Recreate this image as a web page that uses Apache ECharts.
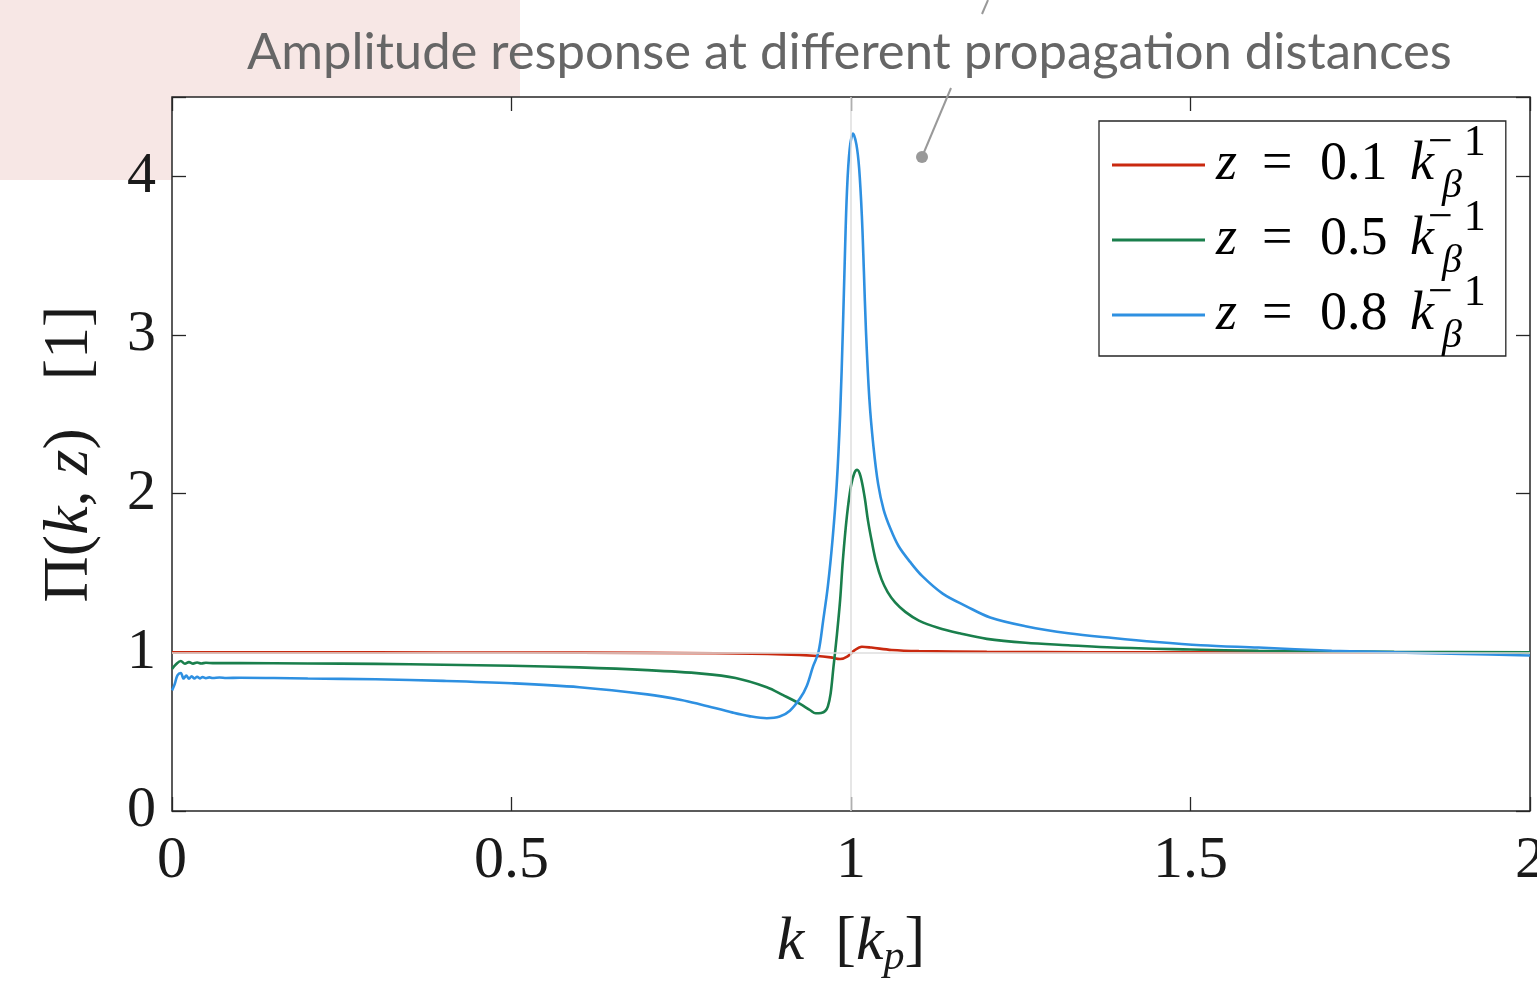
<!DOCTYPE html>
<html><head><meta charset="utf-8">
<script src="https://cdn.jsdelivr.net/npm/echarts@6/dist/echarts.min.js"></script>
<style>html,body{margin:0;padding:0;background:#fff}#c{width:1537px;height:983px}</style>
</head><body><div id="c"></div>
<script>
// ---- data ----
const titleText = 'Amplitude response at different propagation distances';
const seriesNames = ['z = 0.1', 'z = 0.5', 'z = 0.8'];
const zValues = ['0.1', '0.5', '0.8'];
const xTicks = [0, 0.5, 1, 1.5, 2];
const yTicks = [0, 1, 2, 3, 4];

const kRed = [0, 0.2, 0.4, 0.6, 0.8, 0.9, 0.95, 0.97, 0.984, 0.995, 1.005, 1.016, 1.03, 1.06, 1.1, 1.2, 1.5, 2.0];
const piRed = [1.0, 1.0, 0.999, 0.998, 0.994, 0.987, 0.977, 0.968, 0.958, 0.975, 1.012, 1.035, 1.03, 1.015, 1.008, 1.003, 1.0, 1.0];

const kGreen = [0, 0.006, 0.013, 0.019, 0.025, 0.031, 0.037, 0.043, 0.05, 0.06,
  0.1, 0.2, 0.3, 0.4, 0.5, 0.6, 0.7, 0.78, 0.83, 0.876,
  0.9, 0.925, 0.94, 0.948, 0.956, 0.962, 0.966, 0.97, 0.974, 0.979,
  0.984, 0.988, 0.994, 1.0, 1.005, 1.009, 1.014, 1.02, 1.025, 1.031,
  1.037, 1.045, 1.054, 1.065, 1.08, 1.1, 1.128, 1.16, 1.2, 1.257,
  1.32, 1.386, 1.5, 1.6, 1.8, 2.0];
const piGreen = [0.895, 0.925, 0.945, 0.928, 0.938, 0.929, 0.936, 0.930, 0.934, 0.932,
  0.932, 0.930, 0.927, 0.922, 0.915, 0.905, 0.888, 0.866, 0.838, 0.78,
  0.73, 0.675, 0.635, 0.616, 0.618, 0.63, 0.66, 0.74, 0.9, 1.10,
  1.33, 1.58, 1.86, 2.05, 2.13, 2.15, 2.11, 1.98, 1.83, 1.69,
  1.57, 1.46, 1.38, 1.315, 1.255, 1.20, 1.155, 1.12, 1.085, 1.06,
  1.045, 1.03, 1.018, 1.01, 1.003, 1.0];

const kBlue = [0, 0.004, 0.008, 0.013, 0.017, 0.021, 0.025, 0.029, 0.033, 0.037,
  0.041, 0.045, 0.05, 0.055, 0.06, 0.07, 0.08, 0.1, 0.15, 0.2,
  0.3, 0.4, 0.5, 0.6, 0.7, 0.75, 0.78, 0.826, 0.85, 0.876,
  0.895, 0.91, 0.925, 0.935, 0.944, 0.952, 0.959, 0.966, 0.973, 0.979,
  0.984, 0.988, 0.991, 0.994, 0.998, 1.003, 1.008, 1.012, 1.016, 1.019,
  1.022, 1.027, 1.033, 1.04, 1.048, 1.058, 1.07, 1.087, 1.105, 1.135,
  1.17, 1.205, 1.257, 1.32, 1.386, 1.45, 1.515, 1.6, 1.708, 1.8,
  1.9, 2.0];
const piBlue = [0.76, 0.80, 0.855, 0.87, 0.835, 0.853, 0.834, 0.849, 0.835, 0.846,
  0.836, 0.844, 0.837, 0.842, 0.838, 0.841, 0.838, 0.84, 0.838, 0.835,
  0.83, 0.82, 0.805, 0.78, 0.735, 0.70, 0.67, 0.62, 0.598, 0.585,
  0.595, 0.632, 0.71, 0.79, 0.91, 1.0, 1.2, 1.42, 1.72, 2.06,
  2.5, 3.03, 3.5, 3.9, 4.17, 4.27, 4.2, 4.05, 3.75, 3.4,
  3.03, 2.6, 2.3, 2.06, 1.9, 1.78, 1.67, 1.57, 1.48, 1.37,
  1.29, 1.22, 1.165, 1.12, 1.09, 1.065, 1.045, 1.03, 1.01, 1.0,
  0.99, 0.98];

const refK = 1;      // vertical reference line
const refPi = 1;     // horizontal reference line

// ---- styling ----
const colors = ['#c9290f', '#1a7f4c', '#2e90e1'];
const SERIF = '"Liberation Serif", "DejaVu Serif", serif';
const axisColor = '#262626';

function pairs(ks, vs) { return ks.map((k, i) => [k, vs[i]]); }

function fitFont(text, family, targetW) {
  const c = document.createElement('canvas').getContext('2d');
  c.font = '100px ' + family;
  return 100 * targetW / c.measureText(text).width;
}
const titleFamily = 'Lato, "Noto Sans", sans-serif';
const titleSize = fitFont(titleText, titleFamily, 1205);

const chart = echarts.init(document.getElementById('c'), null, {renderer: 'canvas'});

// all tokens left-aligned inside fixed-width boxes
const legendRich = {
  zt: {fontFamily: SERIF, fontStyle: 'italic', fontSize: 54, lineHeight: 64, color: '#000', width: 46},
  eq: {fontFamily: SERIF, fontSize: 54, lineHeight: 64, color: '#000', width: 58},
  num: {fontFamily: SERIF, fontSize: 54, lineHeight: 64, color: '#000', width: 90},
  kk: {fontFamily: SERIF, fontStyle: 'italic', fontSize: 54, lineHeight: 64, color: '#000', width: 18},
  sup: {fontFamily: SERIF, fontSize: 44, lineHeight: 16, verticalAlign: 'top', padding: [-12, 0, 0, 0], color: '#000', width: 14},
  sub: {fontFamily: SERIF, fontStyle: 'italic', fontSize: 40, lineHeight: 12, verticalAlign: 'bottom', padding: [0, 0, -9, 0], color: '#000'}
};

const tickStyle = {inside: true, length: 14, lineStyle: {color: axisColor, width: 1.3}};
const hiddenLine = {show: false, onZero: false};

const option = {
  animation: false,
  backgroundColor: '#ffffff',
  title: {
    text: titleText,
    left: 242, top: 22,
    textStyle: {fontFamily: titleFamily, fontWeight: 'normal', fontSize: titleSize, color: '#666666'}
  },
  graphic: [
    {type: 'rect', z: -10, shape: {x: 0, y: 0, width: 520, height: 180}, style: {fill: '#f7e7e5'}},
    {type: 'line', z: 100, shape: {x1: 988, y1: 0, x2: 982, y2: 14}, style: {stroke: '#999999', lineWidth: 2}},
    {type: 'line', z: 100, shape: {x1: 951, y1: 88, x2: 922, y2: 157}, style: {stroke: '#999999', lineWidth: 2}},
    {type: 'circle', z: 100, shape: {cx: 922, cy: 157, r: 6}, style: {fill: '#999999'}}
  ],
  grid: {
    left: 172, right: 7, top: 97, bottom: 172,
    containLabel: false, outerBoundsMode: 'none',
    show: true, backgroundColor: '#ffffff', borderColor: axisColor, borderWidth: 1.5
  },
  legend: {
    orient: 'vertical', left: 1099, top: 121,
    padding: [0, 20, 0, 13],
    icon: 'rect', itemWidth: 93, itemHeight: 3, itemGap: -10,
    backgroundColor: '#ffffff', borderColor: axisColor, borderWidth: 1.3, borderRadius: 0,
    data: seriesNames,
    formatter: name => {
      const v = zValues[seriesNames.indexOf(name)];
      return `{zt|z}{eq|=}{num|${v}}{kk|k}{sup|− 1}{sub|β}`;
    },
    textStyle: {rich: legendRich, padding: [0, 0, 0, 6]}
  },
  xAxis: [
    {
      type: 'value', position: 'bottom', min: xTicks[0], max: xTicks[xTicks.length - 1], interval: 0.5,
      axisLine: hiddenLine, axisTick: tickStyle, splitLine: {show: false},
      axisLabel: {fontFamily: SERIF, fontSize: 60, color: '#1a1a1a', margin: 20},
      name: '{i|k}{r|  [}{i|k}{s|p}{r|]}', nameLocation: 'middle', nameGap: 96,
      nameTextStyle: {rich: {
        i: {fontFamily: SERIF, fontStyle: 'italic', fontSize: 62, lineHeight: 72, color: '#1a1a1a'},
        r: {fontFamily: SERIF, fontSize: 62, lineHeight: 72, color: '#1a1a1a'},
        s: {fontFamily: SERIF, fontStyle: 'italic', fontSize: 42, lineHeight: 20, verticalAlign: 'bottom', color: '#1a1a1a'}
      }}
    },
    {
      type: 'value', position: 'top', min: xTicks[0], max: xTicks[xTicks.length - 1], interval: 0.5,
      axisLine: hiddenLine, axisTick: tickStyle, splitLine: {show: false}, axisLabel: {show: false}
    }
  ],
  yAxis: [
    {
      type: 'value', position: 'left', min: yTicks[0], max: 4.5, interval: 1,
      axisLine: hiddenLine, axisTick: tickStyle, splitLine: {show: false},
      axisLabel: {fontFamily: SERIF, fontSize: 58, color: '#1a1a1a', margin: 16,
        formatter: v => (yTicks.indexOf(v) >= 0 ? String(v) : '')},
      name: '{r|Π(}{i|k}{r|, }{i|z}{r|)   [1]}', nameLocation: 'middle', nameGap: 66,
      nameTextStyle: {rich: {
        i: {fontFamily: SERIF, fontStyle: 'italic', fontSize: 64, lineHeight: 72, color: '#1a1a1a'},
        r: {fontFamily: SERIF, fontSize: 64, lineHeight: 72, color: '#1a1a1a'}
      }}
    },
    {
      type: 'value', position: 'right', min: yTicks[0], max: 4.5, interval: 1,
      axisLine: hiddenLine, axisTick: tickStyle, splitLine: {show: false}, axisLabel: {show: false}
    }
  ],
  series: [
    {
      name: 'ref', type: 'line', data: [], z: 1, silent: true,
      markLine: {
        silent: true, symbol: 'none', label: {show: false},
        lineStyle: {color: '#dedede', width: 1.5, type: 'solid'},
        data: [{xAxis: refK}, {yAxis: refPi}]
      }
    },
    {name: seriesNames[0], type: 'line', data: pairs(kRed, piRed), symbol: 'none', smooth: 0.35, z: 3,
      lineStyle: {color: colors[0], width: 2.6}, itemStyle: {color: colors[0]}},
    {name: seriesNames[1], type: 'line', data: pairs(kGreen, piGreen), symbol: 'none', smooth: 0.35, z: 3,
      lineStyle: {color: colors[1], width: 2.6}, itemStyle: {color: colors[1]}},
    {name: seriesNames[2], type: 'line', data: pairs(kBlue, piBlue), symbol: 'none', smooth: 0.35, z: 3,
      lineStyle: {color: colors[2], width: 2.6}, itemStyle: {color: colors[2]}}
  ]
};
chart.setOption(option);
</script>
</body></html>
